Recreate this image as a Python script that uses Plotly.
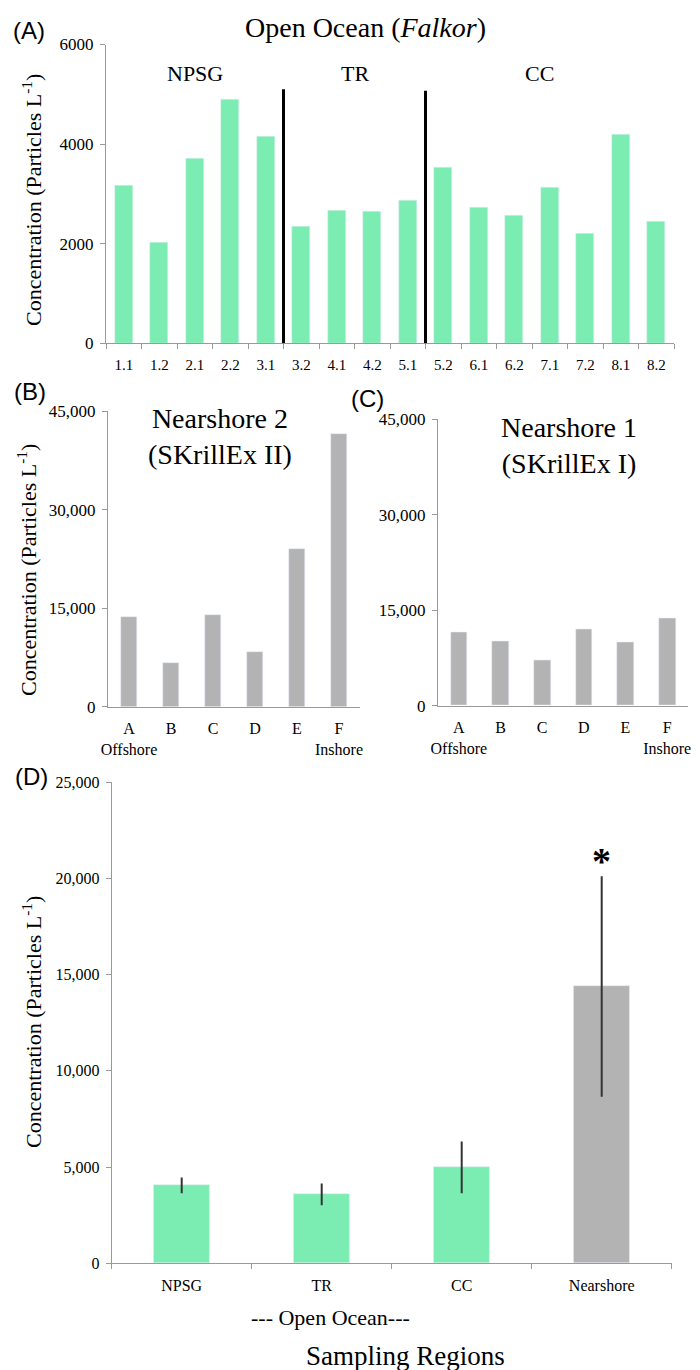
import plotly.graph_objects as go

# ---------------- data ----------------
stations = ["1.1", "1.2", "2.1", "2.2", "3.1", "3.2", "4.1", "4.2",
            "5.1", "5.2", "6.1", "6.2", "7.1", "7.2", "8.1", "8.2"]
falkor_conc = [3160, 2020, 3720, 4900, 4160, 2350, 2660, 2655,
               2870, 3540, 2730, 2570, 3130, 2200, 4190, 2450]
group_names = ["NPSG", "TR", "CC"]
group_label_x = [2.0, 6.5, 11.7]
group_label_y = [5420, 5420, 5420]
separator_x = [4.5, 8.5]
separator_top = [5100, 5070]

sites = ["A", "B", "C", "D", "E", "F"]
site_ticktext = ["A<br>Offshore", "B", "C", "D", "E", "F<br>Inshore"]
skrillex2_conc = [13600, 6600, 13900, 8370, 24000, 41550]
skrillex1_conc = [11470, 10060, 7070, 12050, 9900, 13670]

regions = ["NPSG", "TR", "CC", "Nearshore"]
region_mean = [4050, 3580, 4985, 14380]
region_err = [410, 565, 1340, 5730]
region_colors_key = ["ocean", "ocean", "ocean", "near"]
star_y = 21080

GREEN = "#7CEDB2"
GRAY = "#B3B3B3"
AXC = "#9A9A9A"
SERIF = "Liberation Serif, Times New Roman, serif"
SANS = "Liberation Sans, Arial, sans-serif"
W, H = 700, 1370
OFF = 8  # page body margin compensation


def px(x):
    return (x - OFF) / W


def py(y):
    return 1 - (y - OFF) / H


fig = go.Figure()

fig.add_trace(go.Bar(x=stations, y=falkor_conc, marker_color=GREEN, width=0.5,
                     xaxis="x", yaxis="y", showlegend=False))
fig.add_trace(go.Bar(x=sites, y=skrillex2_conc, marker_color=GRAY, width=0.4,
                     xaxis="x2", yaxis="y2", showlegend=False))
fig.add_trace(go.Bar(x=sites, y=skrillex1_conc, marker_color=GRAY, width=0.4,
                     xaxis="x3", yaxis="y3", showlegend=False))
fig.add_trace(go.Bar(x=regions, y=region_mean,
                     marker_color=[GREEN if k == "ocean" else GRAY for k in region_colors_key],
                     width=0.4,
                     error_y=dict(type="data", array=region_err, visible=True,
                                  color="#333333", thickness=2, width=0),
                     xaxis="x4", yaxis="y4", showlegend=False))


def tf(size):
    return dict(family=SERIF, size=size, color="black")


common_y = dict(showline=True, linecolor=AXC, linewidth=1, ticks="outside",
                ticklen=5, tickcolor=AXC, showgrid=False, zeroline=False,
                automargin=False, ticklabelstandoff=3)
common_x = dict(showline=True, linecolor=AXC, linewidth=1, showgrid=False,
                zeroline=False, type="category", automargin=False)

fig.update_layout(
    width=W, height=H, margin=dict(l=0, r=0, t=0, b=0, autoexpand=False),
    plot_bgcolor="white", paper_bgcolor="white", bargap=0,
    xaxis=dict(domain=[px(106), px(674)], anchor="y", categoryarray=stations,
               ticks="outside", tickson="boundaries", ticklen=5, tickcolor=AXC,
               tickfont=tf(15), ticklabelstandoff=8, **common_x),
    yaxis=dict(domain=[py(343.3), py(44.5)], anchor="x", range=[0, 6000],
               dtick=2000, tickformat="d", tickfont=tf(17), **common_y),
    xaxis2=dict(domain=[px(108), px(360)], anchor="y2", categoryarray=sites,
                tickvals=sites, ticktext=site_ticktext, ticks="",
                tickfont=tf(16), ticklabelstandoff=7, **common_x),
    yaxis2=dict(domain=[py(706.7), py(411)], anchor="x2", range=[0, 45000],
                dtick=15000, tickformat=",", tickfont=tf(17), **common_y),
    xaxis3=dict(domain=[px(438), px(688)], anchor="y3", categoryarray=sites,
                tickvals=sites, ticktext=site_ticktext, ticks="",
                tickfont=tf(16), ticklabelstandoff=7, **common_x),
    yaxis3=dict(domain=[py(705.7), py(419.3)], anchor="x3", range=[0, 45000],
                dtick=15000, tickformat=",", tickfont=tf(17), **common_y),
    xaxis4=dict(domain=[px(111.7), px(671.7)], anchor="y4", categoryarray=regions,
                ticks="outside", tickson="boundaries", ticklen=5, tickcolor=AXC,
                tickfont=tf(16), ticklabelstandoff=7, **common_x),
    yaxis4=dict(domain=[py(1263.3), py(782)], anchor="x4", range=[0, 25000],
                dtick=5000, tickformat=",", tickfont=tf(16), **common_y),
)

# separators in panel A
for sx, st in zip(separator_x, separator_top):
    fig.add_shape(type="line", xref="x", yref="y", x0=sx, x1=sx, y0=0, y1=st,
                  line=dict(color="black", width=3))

ann = []


def add_ann(**kw):
    kw.setdefault("showarrow", False)
    kw.setdefault("xanchor", "center")
    kw.setdefault("yanchor", "middle")
    ann.append(kw)


# group labels panel A
for name, gx, gy in zip(group_names, group_label_x, group_label_y):
    add_ann(text=name, x=gx, y=gy, xref="x", yref="y", font=tf(22))

# panel letters
for t, x, y in [("(A)", 29, 31), ("(B)", 30, 392), ("(C)", 367, 398), ("(D)", 31, 776)]:
    add_ann(text=t, x=px(x), y=py(y), xref="paper", yref="paper",
            font=dict(family=SANS, size=24, color="black"))

# titles
add_ann(text="Open Ocean (<i>Falkor</i>)", x=px(365), y=py(28), xref="paper",
        yref="paper", font=tf(28))
add_ann(text="Nearshore 2<br>(SKrillEx II)", x=px(220), y=py(436), xref="paper",
        yref="paper", font=tf(28))
add_ann(text="Nearshore 1<br>(SKrillEx I)", x=px(569), y=py(445), xref="paper",
        yref="paper", font=tf(28))

# y axis titles
ytitle = "Concentration (Particles L<sup>-1</sup>)"
for x, y in [(32, 200), (27, 570), (32, 1022)]:
    add_ann(text=ytitle, x=px(x), y=py(y), xref="paper", yref="paper",
            textangle=-90, font=tf(22))

# panel D bottom labels
add_ann(text="--- Open Ocean---", x=px(330), y=py(1317), xref="paper", yref="paper",
        font=tf(22))
add_ann(text="Sampling Regions", x=px(405), y=py(1356), xref="paper", yref="paper",
        font=tf(27))

# significance star
add_ann(text="<b>*</b>", x="Nearshore", y=star_y, xref="x4", yref="y4",
        yshift=-4, font=tf(38))

fig.update_layout(annotations=ann)
fig.write_html("out.html")
